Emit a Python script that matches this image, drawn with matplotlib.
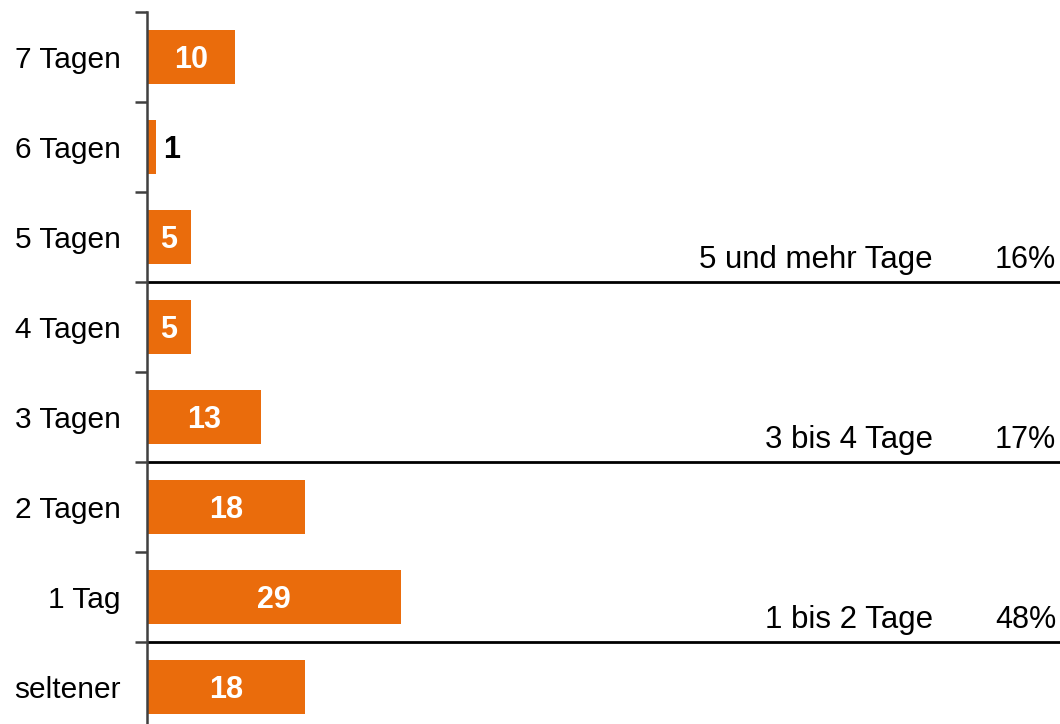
import numpy as np
import matplotlib
matplotlib.use('Agg')
import matplotlib.pyplot as plt

plt.rcParams['font.family'] = ['Liberation Sans', 'DejaVu Sans']

# data
categories = ['7 Tagen', '6 Tagen', '5 Tagen', '4 Tagen', '3 Tagen', '2 Tagen', '1 Tag', 'seltener']
values = [10, 1, 5, 5, 13, 18, 29, 18]
group_labels = ['5 und mehr Tage', '3 bis 4 Tage', '1 bis 2 Tage']
group_pcts = ['16%', '17%', '48%']
group_bounds = [2.5, 4.5, 6.5]   # row boundary below each group

bar_color = '#EA6C0C'
W, H = 1060, 724
px_per_unit = 8.75
row_px = 90.0

fig = plt.figure(figsize=(W / 100, H / 100), dpi=100)
top_px = 12
ax = fig.add_axes([147 / W, 0, (W - 147) / W, (H - top_px) / H])

y = np.arange(len(categories))
ax.barh(y, values, height=0.59, color=bar_color, zorder=2)

ax.set_xlim(0, (W - 147) / px_per_unit)
ax.set_ylim(-0.5 + (H - top_px) / row_px, -0.5)

for yi, v in zip(y, values):
    if v >= 3:
        ax.text(v / 2, yi, str(v), ha='center', va='center_baseline', color='white',
                fontsize=22, fontweight='bold', zorder=3)
    else:
        ax.text(v + 0.8, yi, str(v), ha='left', va='center_baseline', color='black',
                fontsize=22, fontweight='bold', zorder=3)

for lab, pct, b in zip(group_labels, group_pcts, group_bounds):
    ax.axhline(b, color='black', lw=2, zorder=1)
    ax.text((933 - 147) / px_per_unit, b - 0.28, lab, ha='right', va='center_baseline',
            fontsize=22.5, clip_on=False)
    ax.text((1056 - 147) / px_per_unit, b - 0.28, pct, ha='right', va='center_baseline',
            fontsize=22, clip_on=False)

ax.set_yticks(y)
ax.set_yticklabels(categories, fontsize=21.5)
ax.tick_params(axis='y', which='major', length=0, pad=19)
ax.set_yticks(np.arange(-0.5, len(categories) - 1, 1.0), minor=True)
ax.tick_params(axis='y', which='minor', length=9, width=1.8, color='#404040', direction='out')

ax.set_xticks([])
for s in ['top', 'right', 'bottom']:
    ax.spines[s].set_visible(False)
ax.spines['left'].set_color('#404040')
ax.spines['left'].set_linewidth(1.8)

fig.savefig('out.png', dpi=100)
